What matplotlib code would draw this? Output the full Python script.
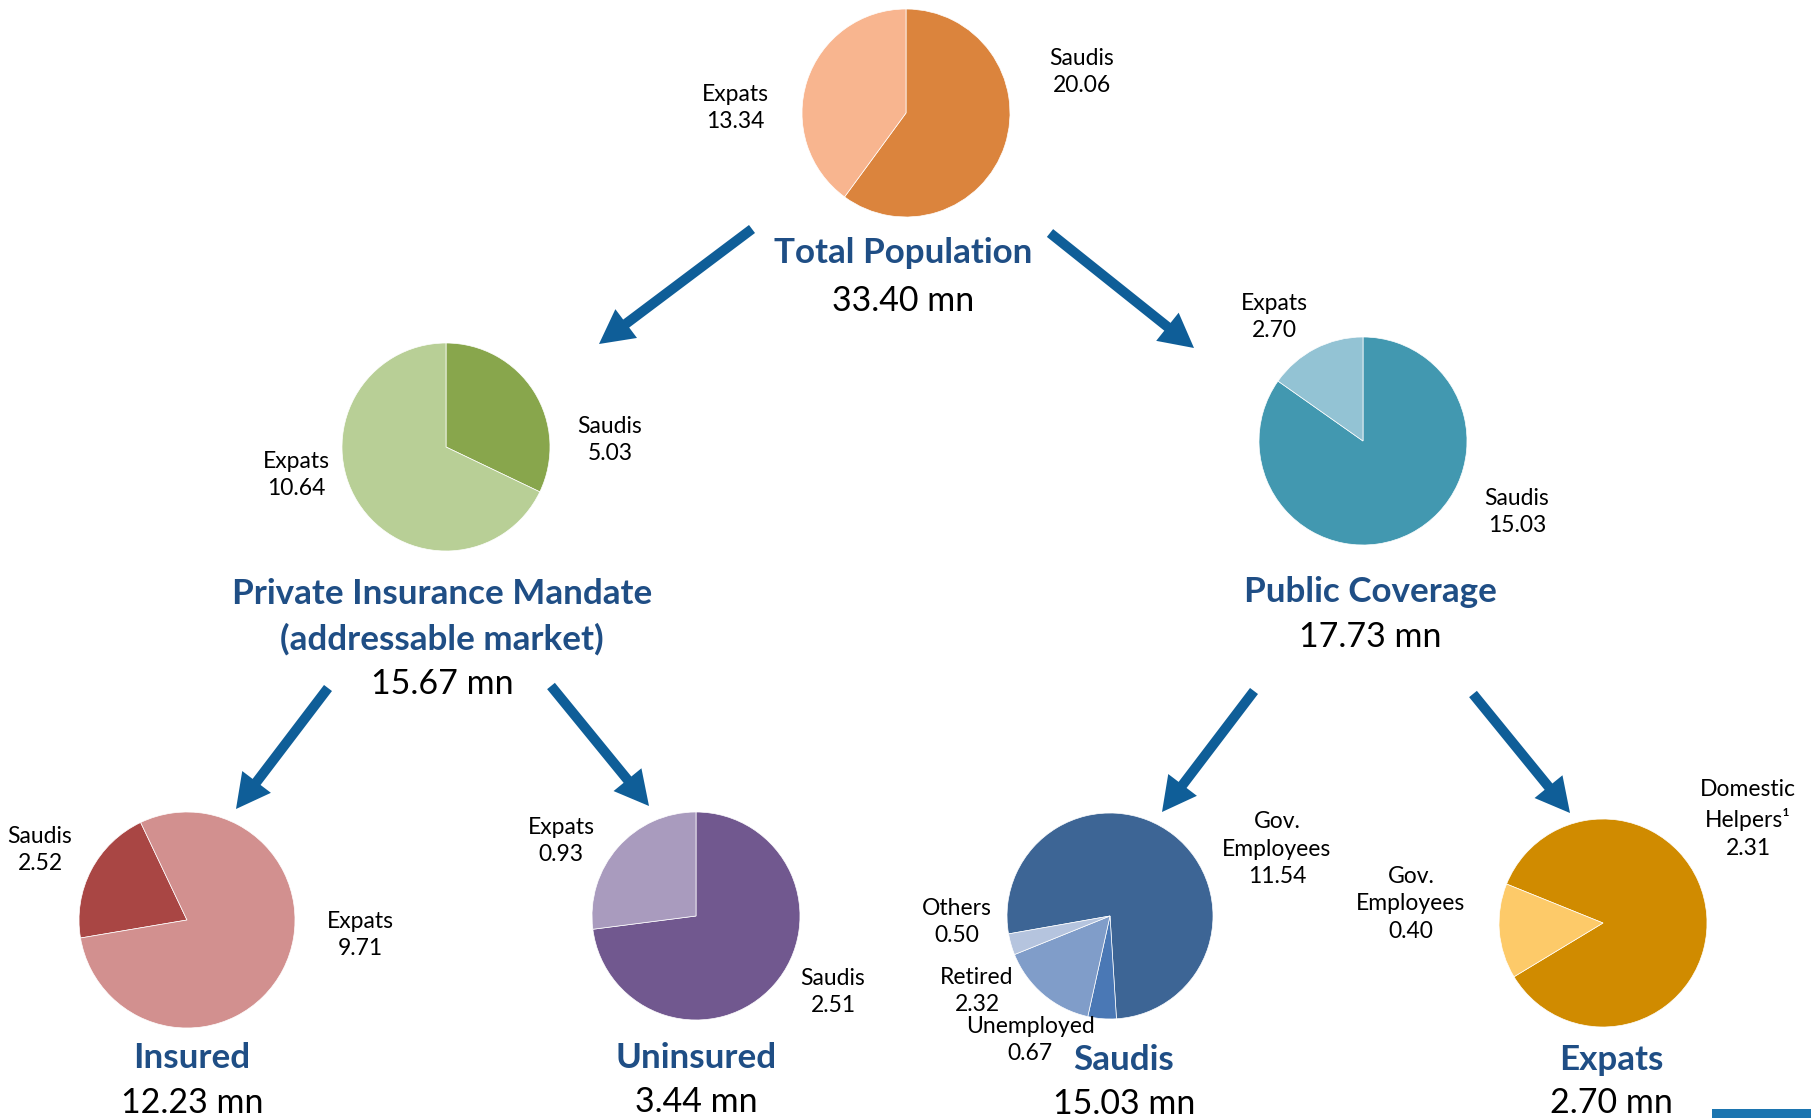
import matplotlib
matplotlib.use("Agg")
import matplotlib.pyplot as plt
from matplotlib.patches import FancyArrow, Rectangle

plt.rcParams['font.family'] = ['Lato', 'DejaVu Sans']

# DATA (mn people)
total_labels = ['Saudis', 'Expats']
total_values = [20.06, 13.34]
private_labels = ['Saudis', 'Expats']
private_values = [5.03, 10.64]
public_labels = ['Saudis', 'Expats']
public_values = [15.03, 2.70]
insured_labels = ['Saudis', 'Expats']
insured_values = [2.52, 9.71]
uninsured_labels = ['Saudis', 'Expats']
uninsured_values = [2.51, 0.93]
saudi_labels = ['Gov.\nEmployees', 'Unemployed', 'Retired', 'Others']
saudi_values = [11.54, 0.67, 2.32, 0.50]
expat_labels = ['Domestic\nHelpers\u00b9', 'Gov.\nEmployees']
expat_values = [2.31, 0.40]

titles = ['Total Population', 'Private Insurance Mandate\n(addressable market)', 'Public Coverage',
          'Insured', 'Uninsured', 'Saudis', 'Expats']
totals = [33.40, 15.67, 17.73, 12.23, 3.44, 15.03, 2.70]

W, H = 1811, 1118
TITLE_BLUE = '#1F4E85'
ARROW_BLUE = '#0F5E98'

fig = plt.figure(figsize=(W / 100, H / 100), dpi=100)
ax = fig.add_axes([0, 0, 1, 1])

def Y(y):
    # pixel row (from top) -> data y (from bottom)
    return H - y

def draw_pie(values, colors, cx, cy, r, start):
    ax.pie(values, colors=colors, center=(cx, Y(cy)), radius=r, startangle=start,
           counterclock=False, wedgeprops=dict(edgecolor='white', linewidth=0.5))

def label(txt, val, x, y):
    ax.text(x, Y(y), txt + '\n' + format(val, '.2f'), ha='center', va='center',
            fontsize=16.5, color='black', linespacing=1.4)

def title(txt, tot, x, y, gap=45, off=3):
    lines = txt.split('\n')
    for i, l in enumerate(lines):
        ax.text(x, Y(y + i * gap), l, ha='center', va='center', fontsize=25.2,
                fontweight='bold', color=TITLE_BLUE)
    ax.text(x, Y(y + len(lines) * gap + off), format(tot, '.2f') + ' mn', ha='center',
            va='center', fontsize=24.5, color='black')

def arrow(x0, y0, x1, y1):
    ax.add_patch(FancyArrow(x0, Y(y0), x1 - x0, Y(y1) - Y(y0), width=10, head_width=36,
                            head_length=34, length_includes_head=True,
                            color=ARROW_BLUE, linewidth=0))

# Top: total population
draw_pie(total_values, ['#DB843D', '#F8B58F'], 906, 113, 104, 90)
label(total_labels[0], total_values[0], 1082, 72)
label(total_labels[1], total_values[1], 735, 108)
title(titles[0], totals[0], 903, 253)

# Private insurance mandate
draw_pie(private_values, ['#88A64C', '#B8CF96'], 446, 447, 104, 90)
label(private_labels[0], private_values[0], 610, 440)
label(private_labels[1], private_values[1], 296, 475)
title(titles[1], totals[1], 442, 594, off=0)

# Public coverage
draw_pie(public_values, ['#4298B0', '#93C3D4'], 1363, 441, 104, 90)
label(public_labels[0], public_values[0], 1517, 512)
label(public_labels[1], public_values[1], 1274, 317)
title(titles[2], totals[2], 1370, 592, gap=42)

# Insured
draw_pie(insured_values, ['#A94644', '#D2908F'], 187, 920, 108, 189.6)
label(insured_labels[0], insured_values[0], 40, 850)
label(insured_labels[1], insured_values[1], 360, 935)
title(titles[3], totals[3], 192, 1058, gap=42)

# Uninsured
draw_pie(uninsured_values, ['#71588F', '#A99BBE'], 696, 916, 104, 90)
label(uninsured_labels[0], uninsured_values[0], 833, 992)
label(uninsured_labels[1], uninsured_values[1], 561, 841)
title(titles[4], totals[4], 696, 1058, gap=41)

# Saudis (public)
draw_pie(saudi_values, ['#3D6595', '#4A78B5', '#809DC9', '#B5C4DE'], 1110, 916, 103, 190)
label(saudi_labels[0], saudi_values[0], 1277, 849)
label(saudi_labels[1], saudi_values[1], 1030, 1040)
label(saudi_labels[2], saudi_values[2], 977, 991)
label(saudi_labels[3], saudi_values[3], 957, 922)
title(titles[5], totals[5], 1124, 1060, gap=41)

# Expats (public)
draw_pie(expat_values, ['#D08B00', '#FDCA69'], 1603, 923, 104, 158)
label(expat_labels[0], expat_values[0], 1748, 819)
label(expat_labels[1], expat_values[1], 1411, 904)
title(titles[6], totals[6], 1611, 1060, gap=40)

# Arrows
arrow(752, 229, 599, 344)
arrow(1050, 233, 1194, 348)
arrow(328, 688, 236, 809)
arrow(551, 686, 649, 806)
arrow(1254, 691, 1162, 812)
arrow(1473, 694, 1570, 813)

# cut-off bar bottom right
ax.add_patch(Rectangle((1712, 0), 99, 9, color='#1C75B0', linewidth=0))

ax.set_xlim(0, W)
ax.set_ylim(0, H)
ax.set_aspect('auto')
ax.axis('off')

fig.savefig('out.png', dpi=100, facecolor='white')
